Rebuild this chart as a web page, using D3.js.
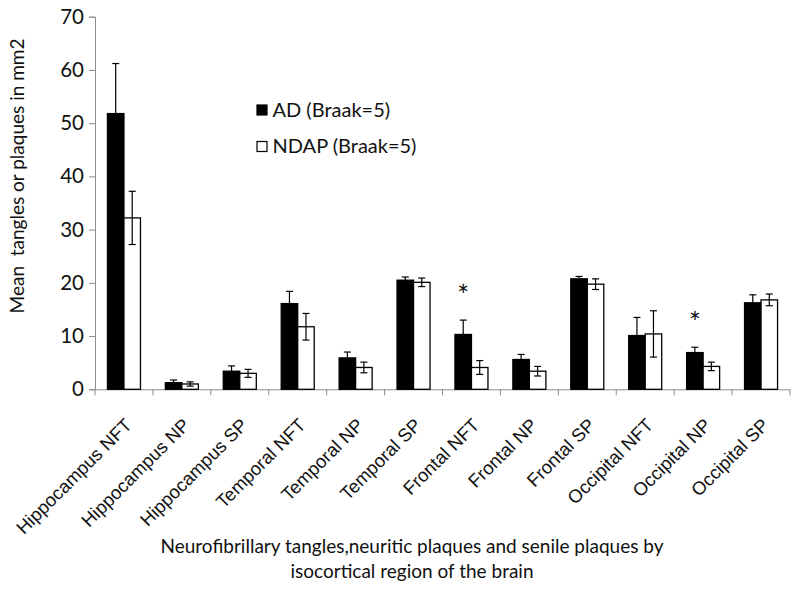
<html>
<head>
  <style>
    body { margin: 0; background: white; font-family: Lato, "Open Sans", sans-serif; }
    svg { display: block; }
  </style>
  <script src="https://d3js.org/d3.v7.min.js"></script>
</head>
<body>
  <svg id="chart"></svg>
<script>
  // categories and values
  let regions = ["Hippocampus NFT", "Hippocampus NP", "Hippocampus SP", "Temporal NFT", "Temporal NP", "Temporal SP",
                 "Frontal NFT", "Frontal NP", "Frontal SP", "Occipital NFT", "Occipital NP", "Occipital SP"]
  let seriesNames = ["AD (Braak=5)", "NDAP (Braak=5)"]
  let adMeans =   [51.8, 1.25, 3.4, 16.1, 5.9, 20.5, 10.3, 5.6, 20.75, 10.1, 6.9, 16.25]
  let adErrors =  [9.4, 0.5, 1.0, 2.3, 1.1, 0.6, 2.7, 0.95, 0.45, 3.4, 1.0, 1.5]
  let ndapMeans = [32.2, 1.0, 3.0, 11.75, 4.1, 20.1, 4.1, 3.4, 19.75, 10.4, 4.3, 16.8]
  let ndapErrors = [5.0, 0.4, 0.75, 2.5, 1.0, 0.8, 1.3, 0.9, 1.0, 4.35, 0.8, 1.1]
  let significant = ["Frontal NFT", "Occipital NP"]
  let yTicks = [0, 10, 20, 30, 40, 50, 60, 70]

  let width = 800, height = 589
  let margin = { top: 16.7, left: 95, right: 10, bottom: 199.7 }

  let svg = d3.select("#chart").attr("width", width).attr("height", height)

  let rows = regions.map((r, i) => ({
    region: r,
    values: [
      { key: seriesNames[0], mean: adMeans[i], err: adErrors[i] },
      { key: seriesNames[1], mean: ndapMeans[i], err: ndapErrors[i] }
    ]
  }))

  let xScale = d3.scaleBand()
    .domain(regions)
    .range([margin.left, 790])
    .paddingInner(0.43)
    .paddingOuter(0.215)

  let xInner = d3.scaleBand()
    .domain(seriesNames)
    .range([0, xScale.bandwidth()])

  let yScale = d3.scaleLinear()
    .domain([0, 70])
    .range([height - margin.bottom, margin.top])

  let fill = d3.scaleOrdinal().domain(seriesNames).range(["#000", "#fff"])
  let axisColor = "#8c8c8c"
  let textColor = "#111"

  // y axis
  let yAxis = svg.append("g")
    .attr("transform", `translate(${margin.left},0)`)
    .call(d3.axisLeft(yScale).tickValues(yTicks).tickSize(6).tickPadding(5))
  yAxis.selectAll("path, line").attr("stroke", axisColor)
  yAxis.selectAll("text").attr("font-size", 20.5).attr("font-family", "Lato").attr("fill", textColor)

  // x axis: line plus ticks at category boundaries
  let xAxis = svg.append("g")
    .attr("transform", `translate(0,${yScale(0)})`)
    .call(d3.axisBottom(xScale).tickSize(0).tickFormat(""))
  xAxis.select("path").attr("stroke", axisColor)
  let gap = (xScale.step() - xScale.bandwidth()) / 2
  let bounds = regions.map(r => xScale(r) - gap).concat([xScale(regions[regions.length - 1]) + xScale.bandwidth() + gap])
  xAxis.selectAll(".btick")
    .data(bounds)
    .enter().append("line")
    .attr("x1", d => d).attr("x2", d => d)
    .attr("y1", 0).attr("y2", 6)
    .attr("stroke", axisColor)

  xAxis.selectAll(".lbl")
    .data(regions)
    .enter().append("text")
    .attr("transform", d => `translate(${xScale(d) + xScale.bandwidth() / 2 + 9},${37}) rotate(-45)`)
    .attr("text-anchor", "end")
    .attr("font-size", 18.5)
    .attr("fill", textColor)
    .text(d => d)

  // bars
  let groups = svg.selectAll(".grp")
    .data(rows)
    .enter().append("g")
    .attr("transform", d => `translate(${xScale(d.region)},0)`)

  groups.selectAll("rect")
    .data(d => d.values)
    .enter().append("rect")
    .attr("x", d => xInner(d.key))
    .attr("width", xInner.bandwidth())
    .attr("y", d => yScale(d.mean))
    .attr("height", d => yScale(0) - yScale(d.mean))
    .attr("fill", d => fill(d.key))
    .attr("stroke", "#000")
    .attr("stroke-width", 1.3)

  // error bars
  let eb = groups.selectAll(".err")
    .data(d => d.values)
    .enter().append("g")
    .attr("stroke", "#000")
    .attr("stroke-width", 1.2)
  let cx = d => xInner(d.key) + xInner.bandwidth() / 2
  eb.append("line")
    .attr("x1", cx).attr("x2", cx)
    .attr("y1", d => yScale(d.mean - d.err)).attr("y2", d => yScale(d.mean + d.err))
  eb.append("line")
    .attr("x1", d => cx(d) - 3.5).attr("x2", d => cx(d) + 3.5)
    .attr("y1", d => yScale(d.mean + d.err)).attr("y2", d => yScale(d.mean + d.err))
  eb.append("line")
    .attr("x1", d => cx(d) - 3.5).attr("x2", d => cx(d) + 3.5)
    .attr("y1", d => yScale(d.mean - d.err)).attr("y2", d => yScale(d.mean - d.err))

  // significance stars above the AD bar
  svg.selectAll(".star")
    .data(rows.filter(d => significant.includes(d.region)))
    .enter().append("text")
    .attr("x", d => xScale(d.region) + xInner(seriesNames[0]) + xInner.bandwidth() / 2)
    .attr("y", d => yScale(d.values[0].mean + d.values[0].err) - 14)
    .attr("text-anchor", "middle")
    .attr("font-size", 28)
    .attr("fill", textColor)
    .text("*")

  // legend
  let legend = svg.append("g").attr("transform", "translate(257,105)")
  let li = legend.selectAll("g")
    .data(seriesNames)
    .enter().append("g")
    .attr("transform", (d, i) => `translate(0,${i * 36.5})`)
  li.append("rect")
    .attr("width", 10).attr("height", 10)
    .attr("fill", d => fill(d)).attr("stroke", "#000").attr("stroke-width", 1.2)
  li.append("text")
    .attr("x", 15.5).attr("y", 11.5)
    .attr("font-size", 20)
    .attr("fill", textColor)
    .text(d => d)

  // axis titles
  svg.append("text")
    .attr("transform", "translate(24,176) rotate(-90)")
    .attr("text-anchor", "middle")
    .attr("font-size", 19)
    .attr("fill", textColor)
    .attr("xml:space", "preserve")
    .text("Mean  tangles or plaques in mm2")

  svg.append("text")
    .attr("x", 412).attr("y", 553)
    .attr("text-anchor", "middle")
    .attr("font-size", 19)
    .attr("fill", textColor)
    .text("Neurofibrillary tangles,neuritic plaques and senile plaques by")
  svg.append("text")
    .attr("x", 412).attr("y", 578)
    .attr("text-anchor", "middle")
    .attr("font-size", 19)
    .attr("fill", textColor)
    .text("isocortical region of the brain")
</script>
</body>
</html>
